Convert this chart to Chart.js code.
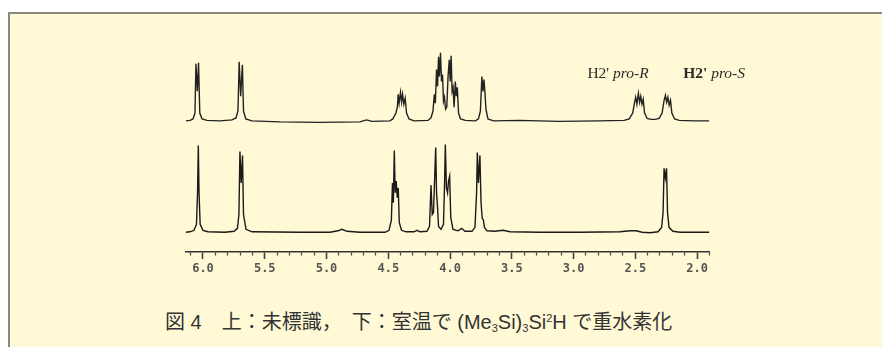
<!DOCTYPE html>
<html>
<head>
<meta charset="utf-8">
<script src="https://cdn.jsdelivr.net/npm/chart.js@4.4.1/dist/chart.umd.min.js"></script>
<style>
    body { margin: 0; background: #ffffff; overflow: hidden; width: 882px; height: 347px; }
    #frame {
        position: absolute; left: 8px; top: 12px; width: 900px; height: 360px;
        background: #fff9d6; border-top: 2px solid #8b897a; border-left: 2px solid #8b897a;
    }
    #chartBox { position: absolute; left: 0; top: 0; width: 882px; height: 300px; }
    #caption {
        position: absolute; left: 165px; top: 306px; white-space: pre;
        font-family: "Liberation Sans", "Noto Sans CJK JP", sans-serif;
        font-size: 20px; line-height: 24px; color: #333333;
    }
    #caption sub, #caption sup { font-size: 11px; }
    #caption sub { vertical-align: -3px; }
    #caption sup { vertical-align: 7px; }
</style>
</head>
<body>
<div id="frame"></div>
<div id="chartBox"><canvas id="nmrChart"></canvas></div>
<div id="caption">図 4　上：未標識，　下：室温で (Me<sub>3</sub>Si)<sub>3</sub>Si<sup>2</sup>H で重水素化</div>
<script>
    // chemical shift (ppm) / intensity pairs
    var upperTrace = [
        [6.14, 0], [6.105, 0.5], [6.081, 2], [6.065, 8], [6.057, 58], [6.046, 30], [6.036, 59], [6.026, 8],
        [6.008, 2], [5.968, 0.5], [5.863, 0], [5.766, 1], [5.733, 3], [5.717, 10], [5.707, 60], [5.695, 25],
        [5.681, 57], [5.672, 10], [5.653, 2], [5.604, 0], [5.378, -1], [5.055, -1.5], [4.731, -1], [4.675, 1],
        [4.634, -0.5], [4.487, 0],
        [4.463, 2], [4.438, 8], [4.426, 14], [4.420, 27], [4.412, 18], [4.401, 29], [4.392, 19], [4.384, 27],
        [4.374, 17], [4.363, 23], [4.352, 8], [4.332, 2], [4.291, 0],
        [4.178, 0.5], [4.154, 3], [4.138, 10], [4.127, 27], [4.119, 18], [4.109, 52], [4.101, 35], [4.093, 65],
        [4.086, 45], [4.077, 69], [4.069, 40], [4.061, 47], [4.053, 20], [4.045, 24], [4.036, 12], [4.026, 14],
        [4.016, 45], [4.006, 62], [3.999, 40], [3.991, 66], [3.983, 30], [3.975, 34], [3.967, 14], [3.957, 40],
        [3.949, 25], [3.941, 34], [3.931, 8], [3.915, 2], [3.875, 0.5],
        [3.794, 0], [3.770, 2], [3.754, 10], [3.742, 45], [3.733, 30], [3.725, 42], [3.717, 28], [3.709, 12],
        [3.693, 2], [3.648, 0], [3.438, 0.5], [3.115, -0.5], [2.792, 0], [2.590, 0.5],
        [2.549, 2], [2.521, 8], [2.507, 18], [2.497, 24], [2.487, 17], [2.475, 28], [2.465, 19], [2.456, 25],
        [2.446, 17], [2.436, 22], [2.425, 8], [2.404, 2.5], [2.372, 1.5], [2.339, 1.5], [2.307, 2.5], [2.283, 8],
        [2.268, 20], [2.256, 26], [2.246, 19], [2.236, 24], [2.226, 16], [2.215, 21], [2.204, 8], [2.182, 2],
        [2.145, 0.5], [2.024, 0], [1.90, 0]
    ];

    var lowerTrace = [
        [6.14, 0], [6.105, 0.5], [6.073, 2], [6.053, 8], [6.044, 40], [6.038, 88], [6.032, 40], [6.023, 8],
        [6.000, 2], [5.960, 0.5], [5.822, 0], [5.749, 1], [5.721, 4], [5.709, 18], [5.701, 82], [5.691, 50],
        [5.680, 78], [5.672, 18], [5.652, 3], [5.603, 0.5], [5.215, 0], [4.972, 0], [4.907, 1.5], [4.875, 3],
        [4.834, 1], [4.729, 0], [4.526, 0],
        [4.494, 2], [4.475, 12], [4.466, 50], [4.459, 30], [4.451, 83], [4.444, 40], [4.436, 52], [4.427, 35],
        [4.419, 45], [4.411, 10], [4.393, 2], [4.356, 0.5], [4.291, 0.5], [4.267, 2], [4.243, 0.5],
        [4.186, 1], [4.166, 6], [4.154, 48], [4.144, 18], [4.134, 20], [4.123, 60], [4.116, 86], [4.109, 40],
        [4.101, 25], [4.093, 6], [4.073, 3], [4.053, 8], [4.044, 50], [4.038, 89], [4.029, 45], [4.020, 40],
        [4.012, 52], [4.003, 57], [3.994, 15], [3.976, 3], [3.935, 1.5], [3.905, 4], [3.879, 1],
        [3.822, 1], [3.798, 5], [3.785, 40], [3.779, 81], [3.770, 50], [3.758, 78], [3.749, 30], [3.739, 14],
        [3.731, 13], [3.721, 5], [3.701, 1.5], [3.636, 1], [3.571, 2], [3.514, 0.5], [3.271, 0], [2.947, 0],
        [2.623, 0.5], [2.542, 1.5], [2.494, 1.5], [2.445, 0], [2.381, -0.5], [2.316, 0.5],
        [2.287, 5], [2.275, 20], [2.267, 65], [2.257, 55], [2.247, 65], [2.239, 20], [2.227, 5], [2.195, 1],
        [2.138, 0], [2.017, 0], [1.90, 0]
    ];

    // vertical offsets of the two stacked spectra
    var upperOffset = 133;
    var lowerOffset = 20;

    var majorTicks = [6.0, 5.5, 5.0, 4.5, 4.0, 3.5, 3.0, 2.5, 2.0];
    var tickLabels = ['6.0', '5.5', '5.0', '4.5', '4.0', '3.5', '3.0', '2.5', '2.0'];

    var peakLabelPpm = [2.64, 1.862];
    var peakLabelParts = [
        [["H2' ", 'normal'], ['pro-R', 'italic']],
        [["H2' ", 'bold'], ['pro-S', 'italic']]
    ];

    function toPoints(trace, offset) {
        return trace.map(function (p) {
            return { x: p[0], y: p[1] + offset };
        });
    }

    function isMajor(value) {
        for (var i = 0; i < majorTicks.length; i++) {
            if (Math.abs(value - majorTicks[i]) < 1e-6) return i;
        }
        return -1;
    }

    // draws the H2' pro-R / pro-S labels above the upper trace
    var peakLabelPlugin = {
        id: 'peakLabels',
        afterDatasetsDraw: function (chart) {
            var ctx = chart.ctx;
            var xScale = chart.scales.x;
            var y = 78;
            ctx.save();
            ctx.fillStyle = '#2a2a2a';
            ctx.textBaseline = 'alphabetic';
            peakLabelParts.forEach(function (parts, i) {
                var total = 0;
                parts.forEach(function (part) {
                    ctx.font = part[1] + ' 15.5px "Liberation Serif"';
                    total += ctx.measureText(part[0]).width;
                });
                var x = xScale.getPixelForValue(peakLabelPpm[i]) - total / 2;
                parts.forEach(function (part) {
                    ctx.font = part[1] + ' 15.5px "Liberation Serif"';
                    ctx.fillText(part[0], x, y);
                    x += ctx.measureText(part[0]).width;
                });
            });
            ctx.restore();
        }
    };

    var ctxNmr = document.getElementById('nmrChart').getContext('2d');
    var nmrChart = new Chart(ctxNmr, {
        type: 'scatter',
        data: {
            datasets: [{
                data: toPoints(upperTrace, upperOffset),
                showLine: true,
                borderColor: '#222222',
                borderWidth: 1.4,
                pointRadius: 0,
                tension: 0
            }, {
                data: toPoints(lowerTrace, lowerOffset),
                showLine: true,
                borderColor: '#1a1a1a',
                borderWidth: 1.4,
                pointRadius: 0,
                tension: 0
            }]
        },
        options: {
            responsive: true,
            maintainAspectRatio: false,
            animation: false,
            devicePixelRatio: 1,
            layout: { padding: { left: 185.7, right: 172.6, top: 45, bottom: 20.6 } },
            plugins: {
                legend: { display: false },
                tooltip: { enabled: false }
            },
            scales: {
                x: {
                    type: 'linear',
                    reverse: true,
                    min: 1.90,
                    max: 6.14,
                    border: { display: true, color: '#333333', width: 1.5 },
                    grid: {
                        drawOnChartArea: false,
                        drawTicks: true,
                        tickLength: 7,
                        tickColor: '#444444',
                        tickWidth: function (c) { return isMajor(c.tick.value) >= 0 ? 1.6 : 1.2; },
                        tickBorderDash: function (c) { return isMajor(c.tick.value) >= 0 ? [] : [3, 40]; }
                    },
                    ticks: {
                        stepSize: 0.1,
                        includeBounds: false,
                        autoSkip: false,
                        maxRotation: 0,
                        minRotation: 0,
                        padding: 3,
                        color: '#555555',
                        font: { family: 'DejaVu Sans Mono', size: 12, weight: 'bold' },
                        callback: function (value) {
                            var i = isMajor(value);
                            return i >= 0 ? tickLabels[i] : '';
                        }
                    }
                },
                y: {
                    display: false,
                    min: 0,
                    max: 210
                }
            }
        },
        plugins: [peakLabelPlugin]
    });
</script>
</body>
</html>
